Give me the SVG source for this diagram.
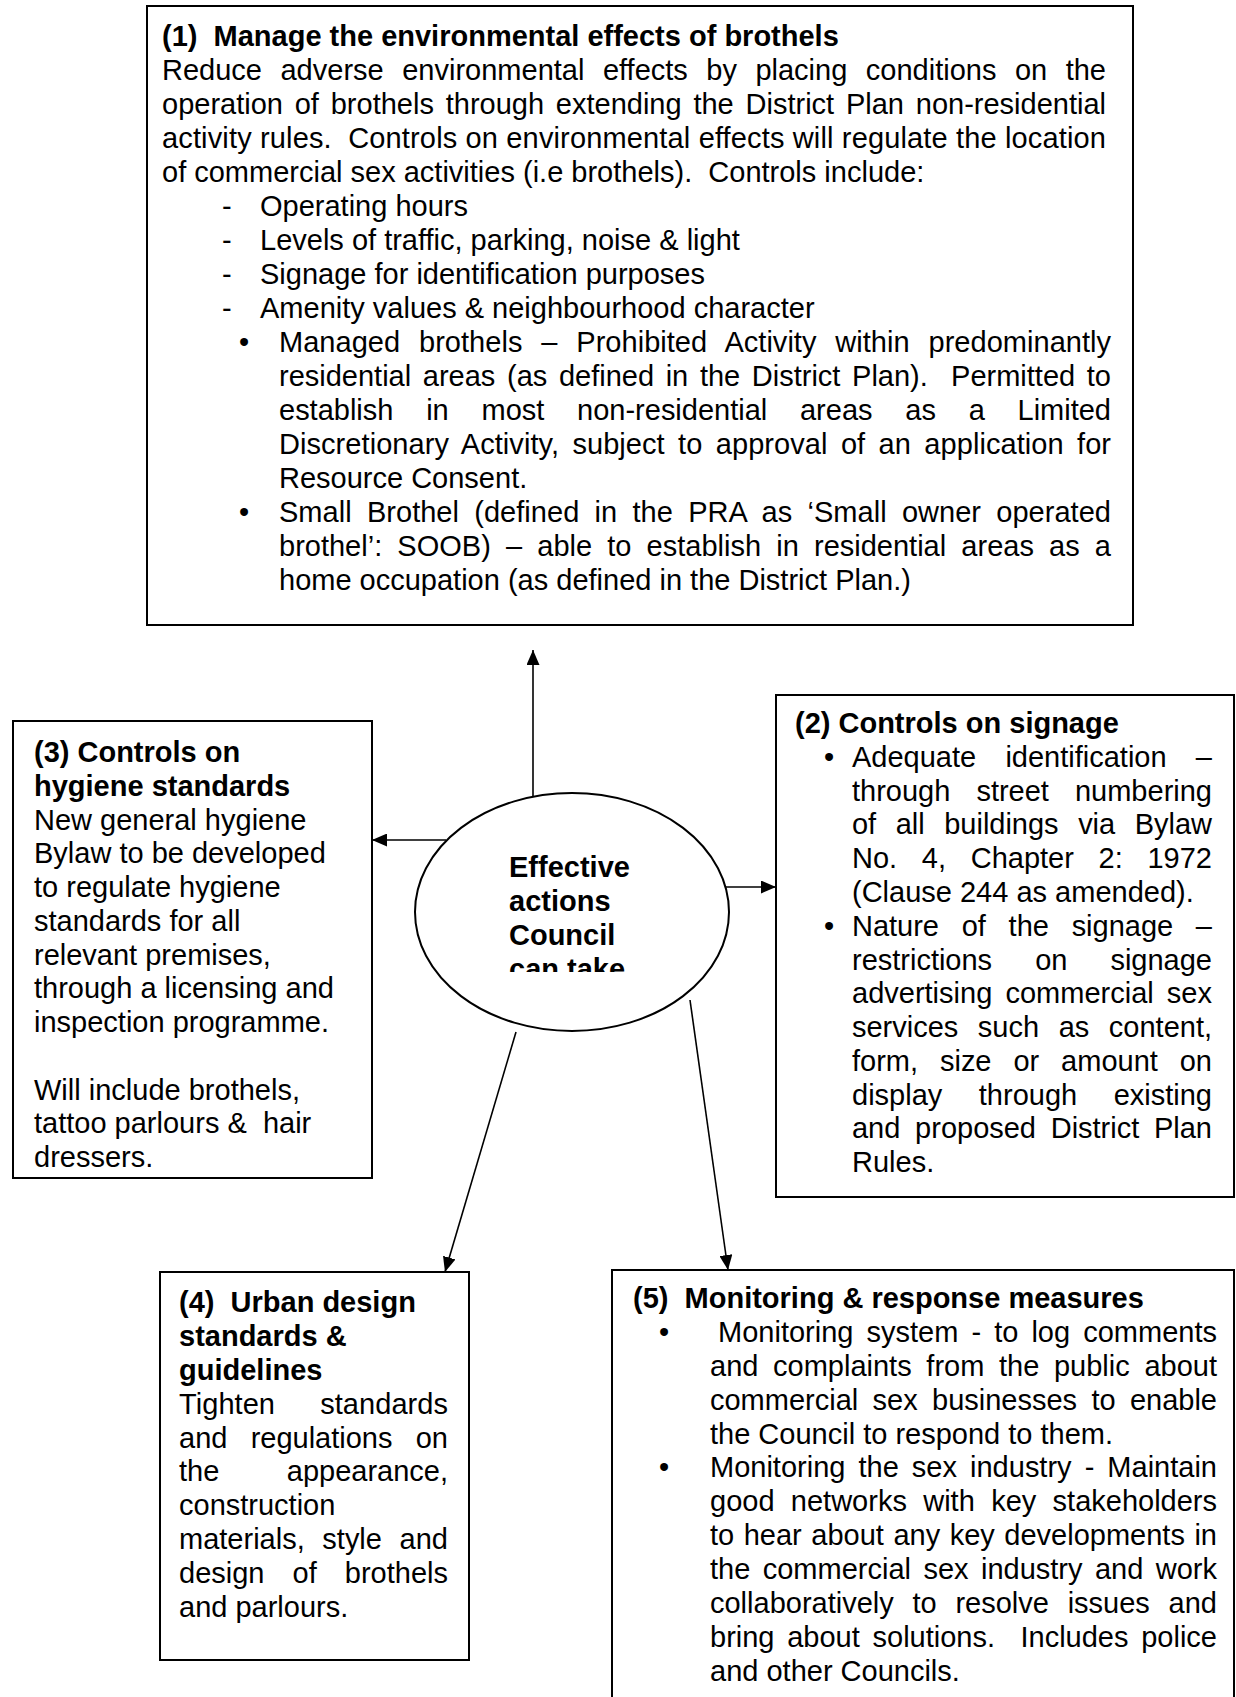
<svg xmlns="http://www.w3.org/2000/svg" width="1236" height="1697" viewBox="0 0 1236 1697" xml:space="preserve">
<style>
.t{font-family:"Liberation Sans",Arial,sans-serif;font-size:29px;fill:#000;white-space:pre}
.b{font-weight:bold}
.box{fill:#fff;stroke:#000;stroke-width:2}
.conn{stroke:#000;stroke-width:1.6;fill:none;marker-end:url(#ah)}
</style>
<defs>
<marker id="ah" viewBox="0 0 15 13" refX="15" refY="6.5" markerWidth="15" markerHeight="13" markerUnits="userSpaceOnUse" orient="auto"><path d="M0,0 L15,6.5 L0,13 z" fill="#000"/></marker>
<clipPath id="ec"><rect x="420" y="840" width="300" height="132"/></clipPath>
</defs>
<rect width="1236" height="1697" fill="#fff"/>
<g id="connectors">
<line class="conn" x1="533" y1="797" x2="533" y2="650"/>
<line class="conn" x1="446" y1="840" x2="372" y2="840"/>
<line class="conn" x1="725" y1="887" x2="776" y2="887"/>
<line class="conn" x1="516" y1="1032" x2="445" y2="1272"/>
<line class="conn" x1="690" y1="1000" x2="728" y2="1270"/>
</g>
<g id="node1">
<rect class="box" x="147" y="6" width="986" height="619"/>
<text class="t b" x="162" y="46">(1)  Manage the environmental effects of brothels</text>
<text class="t" x="162" y="80" word-spacing="10.4" textLength="944" lengthAdjust="spacing">Reduce adverse environmental effects by placing conditions on the</text>
<text class="t" x="162" y="114" word-spacing="3.75" textLength="944" lengthAdjust="spacing">operation of brothels through extending the District Plan non-residential</text>
<text class="t" x="162" y="148" textLength="944" lengthAdjust="spacing">activity rules.  Controls on environmental effects will regulate the location</text>
<text class="t" x="162" y="182">of commercial sex activities (i.e brothels).  Controls include:</text>
<text class="t" x="222" y="216">-</text><text class="t" x="260" y="216">Operating hours</text>
<text class="t" x="222" y="250">-</text><text class="t" x="260" y="250">Levels of traffic, parking, noise &amp; light</text>
<text class="t" x="222" y="284">-</text><text class="t" x="260" y="284">Signage for identification purposes</text>
<text class="t" x="222" y="318">-</text><text class="t" x="260" y="318">Amenity values &amp; neighbourhood character</text>
<text class="t" x="239" y="352">•</text>
<text class="t" x="279" y="352" word-spacing="10.8" textLength="832" lengthAdjust="spacing">Managed brothels – Prohibited Activity within predominantly</text>
<text class="t" x="279" y="386" word-spacing="3.6" textLength="832" lengthAdjust="spacing">residential areas (as defined in the District Plan).  Permitted to</text>
<text class="t" x="279" y="420" word-spacing="24.7" textLength="832" lengthAdjust="spacing">establish in most non-residential areas as a Limited</text>
<text class="t" x="279" y="454" word-spacing="5.25" textLength="832" lengthAdjust="spacing">Discretionary Activity, subject to approval of an application for</text>
<text class="t" x="279" y="488">Resource Consent.</text>
<text class="t" x="239" y="522">•</text>
<text class="t" x="279" y="522" word-spacing="7.2" textLength="832" lengthAdjust="spacing">Small Brothel (defined in the PRA as ‘Small owner operated</text>
<text class="t" x="279" y="556" word-spacing="7.1" textLength="832" lengthAdjust="spacing">brothel’: SOOB) – able to establish in residential areas as a</text>
<text class="t" x="279" y="590">home occupation (as defined in the District Plan.)</text>
</g>
<g id="node2">
<rect class="box" x="776" y="695" width="458" height="502"/>
<text class="t b" x="795" y="733">(2) Controls on signage</text>
<text class="t" x="824" y="767">•</text>
<text class="t" x="852" y="767" word-spacing="21.2" textLength="360" lengthAdjust="spacing">Adequate identification –</text>
<text class="t" x="852" y="801" word-spacing="18" textLength="360" lengthAdjust="spacing">through street numbering</text>
<text class="t" x="852" y="834" word-spacing="11.5" textLength="360" lengthAdjust="spacing">of all buildings via Bylaw</text>
<text class="t" x="852" y="868" word-spacing="16.7" textLength="360" lengthAdjust="spacing">No. 4, Chapter 2: 1972</text>
<text class="t" x="852" y="902">(Clause 244 as amended).</text>
<text class="t" x="824" y="936">•</text>
<text class="t" x="852" y="936" word-spacing="14.7" textLength="360" lengthAdjust="spacing">Nature of the signage –</text>
<text class="t" x="852" y="970" word-spacing="35" textLength="360" lengthAdjust="spacing">restrictions on signage</text>
<text class="t" x="852" y="1003" word-spacing="5.1" textLength="360" lengthAdjust="spacing">advertising commercial sex</text>
<text class="t" x="852" y="1037" word-spacing="11.5" textLength="360" lengthAdjust="spacing">services such as content,</text>
<text class="t" x="852" y="1071" word-spacing="13.85" textLength="360" lengthAdjust="spacing">form, size or amount on</text>
<text class="t" x="852" y="1105" word-spacing="28.5" textLength="360" lengthAdjust="spacing">display through existing</text>
<text class="t" x="852" y="1138" word-spacing="6.7" textLength="360" lengthAdjust="spacing">and proposed District Plan</text>
<text class="t" x="852" y="1172">Rules.</text>
</g>
<g id="node3">
<rect class="box" x="13" y="721" width="359" height="457"/>
<text class="t b" x="34" y="762">(3) Controls on</text>
<text class="t b" x="34" y="796">hygiene standards</text>
<text class="t" x="34" y="829.5">New general hygiene</text>
<text class="t" x="34" y="863">Bylaw to be developed</text>
<text class="t" x="34" y="897">to regulate hygiene</text>
<text class="t" x="34" y="931">standards for all</text>
<text class="t" x="34" y="964.5">relevant premises,</text>
<text class="t" x="34" y="998">through a licensing and</text>
<text class="t" x="34" y="1032">inspection programme.</text>
<text class="t" x="34" y="1099.5">Will include brothels,</text>
<text class="t" x="34" y="1133">tattoo parlours &amp;  hair</text>
<text class="t" x="34" y="1167">dressers.</text>
</g>
<g id="node4">
<rect class="box" x="160" y="1272" width="309" height="388"/>
<text class="t b" x="179" y="1312">(4)  Urban design</text>
<text class="t b" x="179" y="1346">standards &amp;</text>
<text class="t b" x="179" y="1380">guidelines</text>
<text class="t" x="179" y="1414" word-spacing="37" textLength="269" lengthAdjust="spacing">Tighten standards</text>
<text class="t" x="179" y="1448" word-spacing="15.2" textLength="269" lengthAdjust="spacing">and regulations on</text>
<text class="t" x="179" y="1481" word-spacing="59.4" textLength="269" lengthAdjust="spacing">the appearance,</text>
<text class="t" x="179" y="1515">construction</text>
<text class="t" x="179" y="1549" word-spacing="9.6" textLength="269" lengthAdjust="spacing">materials, style and</text>
<text class="t" x="179" y="1583" word-spacing="20" textLength="269" lengthAdjust="spacing">design of brothels</text>
<text class="t" x="179" y="1617">and parlours.</text>
</g>
<g id="node5">
<rect class="box" x="612" y="1270" width="622" height="450"/>
<text class="t b" x="633" y="1308">(5)  Monitoring &amp; response measures</text>
<text class="t" x="659" y="1342">•</text>
<text class="t" x="718" y="1342" word-spacing="5" textLength="499" lengthAdjust="spacing">Monitoring system - to log comments</text>
<text class="t" x="710" y="1376" word-spacing="6.6" textLength="507" lengthAdjust="spacing">and complaints from the public about</text>
<text class="t" x="710" y="1410" word-spacing="6.3" textLength="507" lengthAdjust="spacing">commercial sex businesses to enable</text>
<text class="t" x="710" y="1444">the Council to respond to them.</text>
<text class="t" x="659" y="1477">•</text>
<text class="t" x="710" y="1477" word-spacing="5" textLength="507" lengthAdjust="spacing">Monitoring the sex industry - Maintain</text>
<text class="t" x="710" y="1511" word-spacing="8.3" textLength="507" lengthAdjust="spacing">good networks with key stakeholders</text>
<text class="t" x="710" y="1545" word-spacing="1.5" textLength="507" lengthAdjust="spacing">to hear about any key developments in</text>
<text class="t" x="710" y="1579" word-spacing="4.4" textLength="507" lengthAdjust="spacing">the commercial sex industry and work</text>
<text class="t" x="710" y="1613" word-spacing="10.7" textLength="507" lengthAdjust="spacing">collaboratively to resolve issues and</text>
<text class="t" x="710" y="1647" word-spacing="4.7" textLength="507" lengthAdjust="spacing">bring about solutions.  Includes police</text>
<text class="t" x="710" y="1681">and other Councils.</text>
</g>
<g id="center">
<ellipse cx="572" cy="912" rx="157" ry="119" fill="#fff" stroke="#000" stroke-width="2"/>
<g clip-path="url(#ec)">
<text class="t b" x="509" y="877">Effective</text>
<text class="t b" x="509" y="911">actions</text>
<text class="t b" x="509" y="945">Council</text>
<text class="t b" x="509" y="979">can take</text>
</g>
</g>
</svg>
